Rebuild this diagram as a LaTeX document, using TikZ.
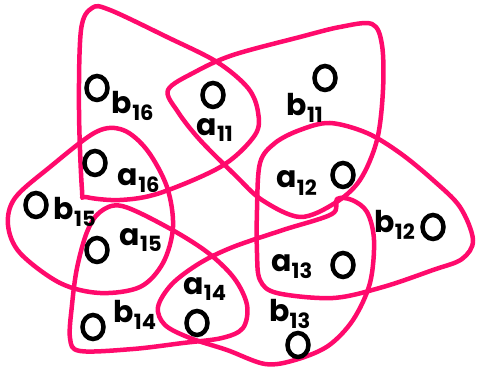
\documentclass[tikz,border=0pt]{standalone}
\usepackage{fontspec}
\setsansfont{Poppins}
\usepackage{tikz}
\usetikzlibrary{positioning,shapes.geometric}
\definecolor{edgepink}{HTML}{FF0A6C}

\begin{document}
\begin{tikzpicture}[
  x=1pt, y=-1pt,
  vert/.style={draw, ellipse, line width=4.5pt, minimum width=21pt, minimum height=24pt, inner sep=0pt},
  lab/.style={font=\sffamily\bfseries\fontsize{30}{30}\selectfont, inner sep=0pt},
  hedge/.style={draw=edgepink, line width=4.5pt, line cap=round, line join=round}
]
  \useasboundingbox (0,0) rectangle (477,371);

  % hyperedges
  \draw[hedge] plot[smooth cycle, tension=0.55] coordinates {(82,190) (79,110) (81,30) (92,8) (110,10) (167,37) (217,62) (248,88) (258,112) (255,135) (222,166) (160,193) (120,200) (86,197)};
  \draw[hedge] plot[smooth cycle, tension=0.55] coordinates {(168,90) (178,112) (200,140) (235,175) (262,200) (300,217) (335,203) (360,180) (377,140) (383,90) (382,45) (372,24) (340,27) (300,37) (233,55) (195,72)};
  \draw[hedge] plot[smooth cycle, tension=0.55] coordinates {(330,123) (367,133) (400,153) (433,180) (460,207) (473,240) (462,259) (433,270) (383,287) (333,298) (277,293) (260,280) (257,253) (257,210) (260,163) (275,143) (300,130)};
  \draw[hedge] plot[smooth cycle, tension=0.55] coordinates {(332,214) (283,230) (233,247) (200,263) (172,284) (158,307) (165,325) (190,338) (227,350) (265,364) (295,360) (328,346) (353,320) (370,283) (374,240) (367,212) (352,200) (337,199)};
  \draw[hedge] plot[smooth cycle, tension=0.55] coordinates {(122,206) (167,227) (207,252) (234,278) (247,305) (243,328) (222,338) (183,343) (133,349) (80,351) (70,338) (72,305) (77,268) (87,232) (100,212)};
  \draw[hedge] plot[smooth cycle, tension=0.55] coordinates {(96,132) (50,167) (15,198) (8,225) (20,253) (60,283) (100,293) (140,287) (163,263) (173,227) (167,187) (147,150) (123,130)};

  % vertices
  \node[vert] (b16) at (97,88) {};
  \node[vert] (a11) at (213,95) {};
  \node[vert] (b11) at (325,78) {};
  \node[vert] (a16) at (95,163) {};
  \node[vert] (b15) at (36,205) {};
  \node[vert] (a15) at (97,250) {};
  \node[vert] (b14) at (93,327) {};
  \node[vert] (a14) at (197,323) {};
  \node[vert] (b13) at (298,345) {};
  \node[vert] (a13) at (343,265) {};
  \node[vert] (a12) at (343,175) {};
  \node[vert] (b12) at (433,227) {};

  % labels
  \node[lab] (lb16) at ([shift={(36,18)}]b16) {b\textsubscript{16}};
  \node[lab] (la11) at ([shift={(2,35)}]a11) {a\textsubscript{11}};
  \node[lab] (lb11) at ([shift={(-20,30)}]b11) {b\textsubscript{11}};
  \node[lab] (la16) at ([shift={(44,18)}]a16) {a\textsubscript{16}};
  \node[lab] (lb15) at ([shift={(39,7)}]b15) {b\textsubscript{15}};
  \node[lab] (la15) at ([shift={(44,-10)}]a15) {a\textsubscript{15}};
  \node[lab] (lb14) at ([shift={(42,-12)}]b14) {b\textsubscript{14}};
  \node[lab] (la14) at ([shift={(8,-34)}]a14) {a\textsubscript{14}};
  \node[lab] (lb13) at ([shift={(-8,-31)}]b13) {b\textsubscript{13}};
  \node[lab] (la13) at ([shift={(-51,2)}]a13) {a\textsubscript{13}};
  \node[lab] (la12) at ([shift={(-46,8)}]a12) {a\textsubscript{12}};
  \node[lab] (lb12) at ([shift={(-38,-2)}]b12) {b\textsubscript{12}};
\end{tikzpicture}
\end{document}
